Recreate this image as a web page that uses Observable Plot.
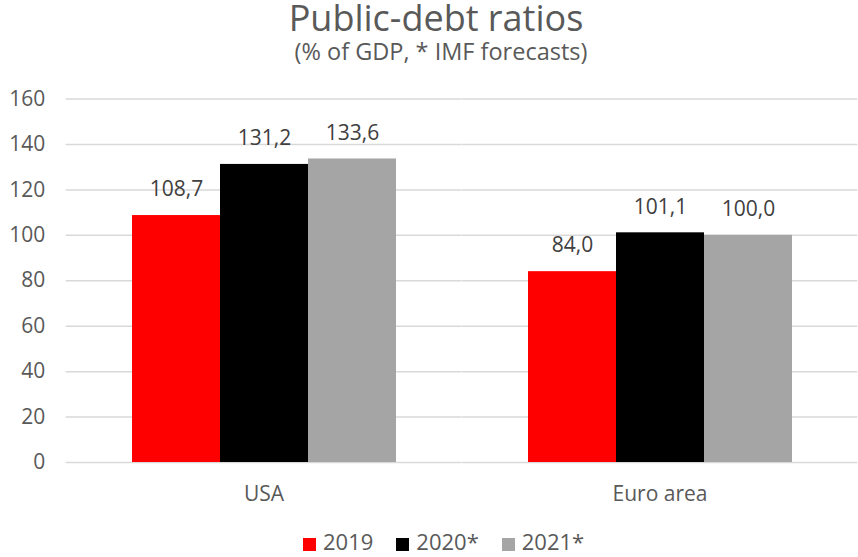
<!DOCTYPE html>
<html><head><meta charset="utf-8">
<script src="https://cdn.jsdelivr.net/npm/d3@7"></script>
<script src="https://cdn.jsdelivr.net/npm/@observablehq/plot@0.6"></script>
<style>
body{margin:0;background:#fff;font-family:"Open Sans",sans-serif;}
#wrap{width:858px;height:557px;position:relative;overflow:hidden;}
#title{position:absolute;left:7px;width:858px;top:0px;text-align:center;font-size:36px;color:#595959;line-height:36px;}
#sub{position:absolute;left:12px;width:858px;top:38px;text-align:center;font-size:23.5px;font-weight:500;color:#595959;line-height:26px;}
#chart{position:absolute;left:0;top:70px;}
#legend{position:absolute;left:303px;top:528px;display:flex;font-size:22px;color:#595959;line-height:26px;}
.item{display:flex;align-items:center;margin-right:23px;}
.sw{width:13px;height:13px;margin-right:7px;position:relative;top:3px;}
</style></head>
<body><div id="wrap">
<div id="title">Public-debt ratios</div>
<div id="sub">(% of GDP, * IMF forecasts)</div>
<div id="chart"></div>
<div id="legend"></div>
</div>
<script>
const categories = ["USA", "Euro area"];
const years = ["2019", "2020*", "2021*"];
const v2019 = [108.7, 84.0];
const v2020 = [131.2, 101.1];
const v2021 = [133.6, 100.0];
const colors = ["#ff0000", "#000000", "#a5a5a5"];
const yTicks = [0, 20, 40, 60, 80, 100, 120, 140, 160];

const series = [v2019, v2020, v2021];
const table = [];
categories.forEach((c, i) => years.forEach((y, j) => table.push({country: c, year: y, value: series[j][i]})));

const W = 858, mL = 66, mR = 0;
const pInner = 0.33, pOuter = 0.165;
const step = (W - mL - mR) / (categories.length - pInner + 2 * pOuter);
const ext = step * pOuter;
const fmt = d => d.toFixed(1).replace(".", ",");

const plot = Plot.plot({
  width: W, height: 442,
  marginLeft: mL, marginRight: mR, marginTop: 28.5, marginBottom: 50,
  style: {fontFamily: "'Open Sans', sans-serif", fontSize: "21px", color: "#595959", background: "#fff"},
  facet: {data: table, x: "country"},
  fx: {domain: categories, paddingInner: pInner, paddingOuter: pOuter, label: null, tickSize: 0, tickPadding: 24, fontSize: 18},
  x: {domain: years, padding: 0, axis: null},
  y: {domain: [0, 160], ticks: yTicks, tickSize: 0, tickPadding: 21 + ext, label: null},
  color: {domain: years, range: colors},
  marks: [
    Plot.ruleY(yTicks, {stroke: "#d9d9d9", strokeWidth: 1.5, insetLeft: -ext, insetRight: -ext}),
    Plot.barY(table, {x: "year", y: "value", fill: "year"}),
    Plot.text(table, {x: "year", y: "value", text: d => fmt(d.value), dy: -26, fill: "#404040", fontSize: 21})
  ]
});
document.getElementById("chart").appendChild(plot);

const leg = document.getElementById("legend");
years.forEach((y, j) => {
  const it = document.createElement("div"); it.className = "item";
  const sw = document.createElement("span"); sw.className = "sw"; sw.style.background = colors[j];
  const t = document.createElement("span"); t.textContent = y;
  it.appendChild(sw); it.appendChild(t); leg.appendChild(it);
});
</script>
</body></html>
